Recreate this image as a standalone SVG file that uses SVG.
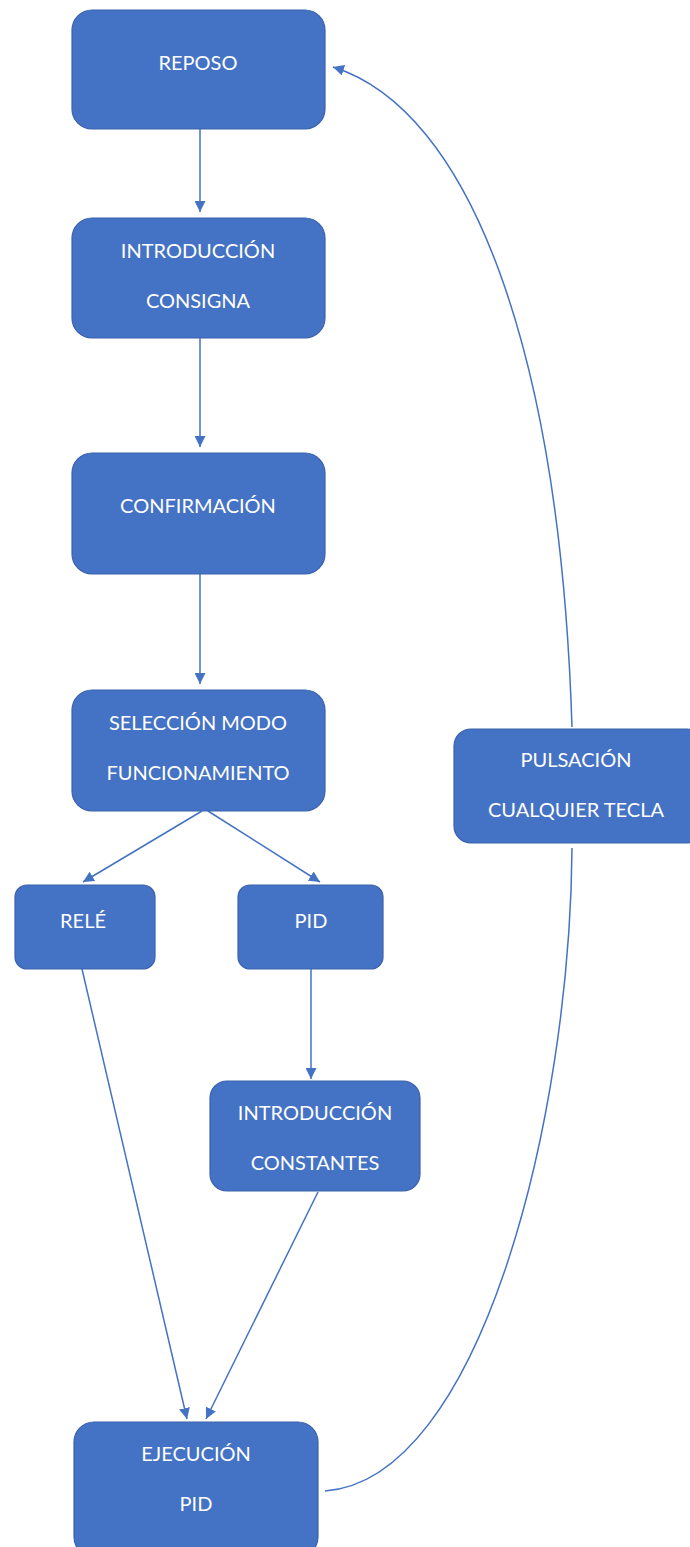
<svg xmlns="http://www.w3.org/2000/svg" width="690" height="1547" viewBox="0 0 690 1547">
<style>
.n rect{fill:#4472C4;stroke:#3A62AC;stroke-width:1.2}
.n text{fill:#fff;font-family:Lato,"Open Sans",sans-serif;font-size:20px;text-anchor:middle;dominant-baseline:central}
.c path{fill:none;stroke:#4472C4;stroke-width:1.5}
</style>
<defs>
<marker id="b" viewBox="0 0 10 10" refX="10" refY="5" markerWidth="11" markerHeight="11" markerUnits="userSpaceOnUse" orient="auto"><path d="M0,0L10,5L0,10z" fill="#4472C4"/></marker>
</defs>
<rect width="690" height="1547" fill="#fff"/>
<g class="c">
<path d="M200,129V212" marker-end="url(#b)"/>
<path d="M200,338V447" marker-end="url(#b)"/>
<path d="M200,574V684" marker-end="url(#b)"/>
<path d="M202,811L83,882" marker-end="url(#b)"/>
<path d="M208,811L320,882" marker-end="url(#b)"/>
<path d="M311,969V1079" marker-end="url(#b)"/>
<path d="M82,969L187,1419" marker-end="url(#b)"/>
<path d="M318,1192L206,1419" marker-end="url(#b)"/>
<path d="M325,1491C480,1480 570,1120 572,848"/>
<path d="M572,727C560,350 470,110 333,67" marker-end="url(#b)"/>
</g>
<g id="reposo" class="n"><rect x="72" y="10" width="253" height="119" rx="20"/><text x="198" y="62">REPOSO</text></g>
<g id="consigna" class="n"><rect x="72" y="218" width="253" height="120" rx="20"/><text x="198" y="250">INTRODUCCIÓN</text><text x="198" y="300">CONSIGNA</text></g>
<g id="confirmacion" class="n"><rect x="72" y="453" width="253" height="121" rx="20"/><text x="198" y="505">CONFIRMACIÓN</text></g>
<g id="seleccion" class="n"><rect x="72" y="690" width="253" height="121" rx="20"/><text x="198" y="722">SELECCIÓN MODO</text><text x="198" y="772">FUNCIONAMIENTO</text></g>
<g id="rele" class="n"><rect x="15" y="885" width="140" height="84" rx="12"/><text x="83" y="920">RELÉ</text></g>
<g id="pid" class="n"><rect x="238" y="885" width="145" height="84" rx="12"/><text x="311" y="920">PID</text></g>
<g id="constantes" class="n"><rect x="210" y="1081" width="210" height="110" rx="17"/><text x="315" y="1112">INTRODUCCIÓN</text><text x="315" y="1162">CONSTANTES</text></g>
<g id="ejecucion" class="n"><rect x="74" y="1422" width="244" height="135" rx="20"/><text x="196" y="1453">EJECUCIÓN</text><text x="196" y="1503">PID</text></g>
<g id="pulsacion" class="n"><rect x="454" y="729" width="250" height="114" rx="17"/><text x="576" y="759">PULSACIÓN</text><text x="576" y="809">CUALQUIER TECLA</text></g>
</svg>
